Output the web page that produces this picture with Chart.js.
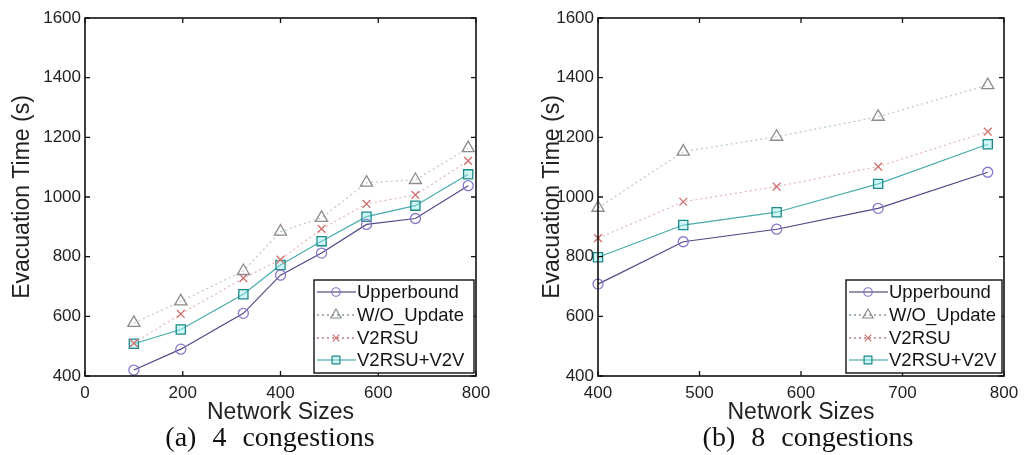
<!DOCTYPE html>
<html>
<head>
<meta charset="utf-8">
<script src="https://cdn.jsdelivr.net/npm/chart.js@4.4.1/dist/chart.umd.min.js"></script>
<style>
  html, body { margin: 0; padding: 0; background: #fff; }
  #wrap { position: relative; width: 1026px; height: 455px; overflow: hidden; background: #fff; }
  canvas { position: absolute; top: 0; }
  .cap { position: absolute; top: 419px; font-family: "Liberation Serif", "Times New Roman", serif; font-size: 28px; color: #111; white-space: nowrap; word-spacing: 9px; transform: translateX(-50%); line-height: 36px; }
</style>
</head>
<body>
<div id="wrap">
  <canvas id="c1" width="513" height="455" style="left:0px"></canvas>
  <canvas id="c2" width="513" height="455" style="left:513px"></canvas>
  <div class="cap" style="left:270px">(a) 4 congestions</div>
  <div class="cap" style="left:808px">(b) 8 congestions</div>
</div>
<script>
// ---- Data ----
const seriesNames = ["Upperbound", "W/O_Update", "V2RSU", "V2RSU+V2V"];

const sizesA = [100, 196, 324, 400, 484, 576, 676, 784];
const upperboundA = [420, 490, 610, 738, 812, 908, 928, 1038];
const woUpdateA   = [578, 650, 752, 884, 930, 1048, 1057, 1164];
const v2rsuA      = [510, 608, 728, 790, 893, 977, 1007, 1121];
const v2rsuV2vA   = [508, 556, 674, 772, 852, 934, 971, 1076];

const sizesB = [400, 484, 576, 676, 784];
const upperboundB = [708, 850, 892, 962, 1083];
const woUpdateB   = [964, 1152, 1202, 1269, 1375];
const v2rsuB      = [862, 984, 1035, 1102, 1219];
const v2rsuV2vB   = [798, 906, 949, 1044, 1177];

const xTicksA = [0, 200, 400, 600, 800];
const xTicksB = [400, 500, 600, 700, 800];
const yTicks = [400, 600, 800, 1000, 1200, 1400, 1600];

// ---- Styles ----
const styles = [
  { borderColor: "#4a4a86", pointBorderColor: "#8478c8", pointBackgroundColor: "rgba(255,255,255,0)", pointStyle: "circle", pointRadius: 5, borderDash: [], legendLine: "#2a2a5a" },
  { borderColor: "#b4cfb4", pointBorderColor: "#8c8c8c", pointBackgroundColor: "rgba(255,255,255,0)", pointStyle: "triangle", pointRadius: 7, borderDash: [2, 3], legendLine: "#4a704a" },
  { borderColor: "#e6b4b4", pointBorderColor: "#d07070", pointBackgroundColor: "rgba(255,255,255,0)", pointStyle: "crossRot", pointRadius: 5.5, borderDash: [2, 3], legendLine: "#904040" },
  { borderColor: "#48acac", pointBorderColor: "#1e8a8a", pointBackgroundColor: "rgba(150,235,235,0.45)", pointStyle: "rect", pointRadius: 6.5, borderDash: [], legendLine: "#2f9a9a" }
];

function mkDatasets(xs, arrays) {
  return arrays.map((arr, i) => ({
    label: seriesNames[i],
    data: xs.map((x, j) => ({ x: x, y: arr[j] })),
    borderColor: styles[i].borderColor,
    borderWidth: 1.2,
    borderDash: styles[i].borderDash,
    pointStyle: styles[i].pointStyle,
    pointRadius: styles[i].pointRadius,
    pointBorderColor: styles[i].pointBorderColor,
    pointBackgroundColor: styles[i].pointBackgroundColor,
    pointBorderWidth: 1.3,
    tension: 0,
    fill: false,
    clip: false
  }));
}

const frameAndLegend = {
  id: "frameAndLegend",
  afterDraw(chart) {
    const ctx = chart.ctx;
    const a = chart.chartArea;
    const xs = chart.scales.x, ys = chart.scales.y;
    ctx.save();
    ctx.strokeStyle = "#111";
    ctx.lineWidth = 1.6;
    ctx.setLineDash([]);
    ctx.strokeRect(a.left, a.top, a.right - a.left, a.bottom - a.top);
    const tl = 5;
    ctx.lineWidth = 1.3;
    ctx.beginPath();
    xs.ticks.forEach(t => {
      const px = xs.getPixelForValue(t.value);
      ctx.moveTo(px, a.bottom); ctx.lineTo(px, a.bottom - tl);
      ctx.moveTo(px, a.top); ctx.lineTo(px, a.top + tl);
    });
    ys.ticks.forEach(t => {
      const py = ys.getPixelForValue(t.value);
      ctx.moveTo(a.left, py); ctx.lineTo(a.left + tl, py);
      ctx.moveTo(a.right, py); ctx.lineTo(a.right - tl, py);
    });
    ctx.stroke();

    // legend box inside plot, bottom-right
    const lw = chart.options.plugins.boxLegend.width;
    const lh = 93;
    const bx = a.right - lw - 2, by = a.bottom - lh - 3;
    ctx.fillStyle = "#fff";
    ctx.fillRect(bx, by, lw, lh);
    ctx.lineWidth = 1.4;
    ctx.strokeStyle = "#111";
    ctx.strokeRect(bx, by, lw, lh);
    const rows = [12, 35, 58, 80];
    chart.data.datasets.forEach((ds, i) => {
      const y = by + rows[i];
      ctx.save();
      ctx.strokeStyle = styles[i].legendLine;
      ctx.lineWidth = 1.2;
      ctx.setLineDash(styles[i].borderDash);
      ctx.beginPath();
      ctx.moveTo(bx + 3, y); ctx.lineTo(bx + 42, y);
      ctx.stroke();
      ctx.setLineDash([]);
      ctx.strokeStyle = styles[i].pointBorderColor;
      ctx.fillStyle = styles[i].pointBackgroundColor;
      ctx.lineWidth = 1.2;
      Chart.helpers.drawPoint(ctx, { pointStyle: styles[i].pointStyle, radius: styles[i].pointRadius * 0.85, rotation: 0, borderWidth: 1.2 }, bx + 22, y);
      ctx.restore();
      ctx.fillStyle = "#151515";
      ctx.font = "18.5px 'Liberation Sans', Arial, sans-serif";
      ctx.textBaseline = "middle";
      ctx.textAlign = "left";
      ctx.fillText(ds.label, bx + 43, y + 1);
    });
    ctx.restore();
  }
};

function makeChart(id, xs, arrays, xmin, xmax, xTickVals, padLeft, padRight, legendWidth) {
  const tickFont = { family: "'Liberation Sans', Arial, sans-serif", size: 17 };
  const titleFont = { family: "'Liberation Sans', Arial, sans-serif", size: 23 };
  return new Chart(document.getElementById(id), {
    type: "line",
    data: { datasets: mkDatasets(xs, arrays) },
    options: {
      responsive: false,
      animation: false,
      devicePixelRatio: 1,
      layout: { padding: { left: padLeft, right: padRight, top: 18, bottom: 0 } },
      plugins: { legend: { display: false }, tooltip: { enabled: false }, boxLegend: { width: legendWidth } },
      scales: {
        x: {
          type: "linear", min: xmin, max: xmax,
          afterBuildTicks(scale) { scale.ticks = xTickVals.map(v => ({ value: v })); },
          grid: { display: false, drawTicks: false },
          border: { display: false },
          ticks: { font: tickFont, color: "#222", padding: 7, maxRotation: 0, autoSkip: false, callback: v => String(v) },
          title: { display: true, text: "Network Sizes", font: titleFont, color: "#222", padding: { top: 0, bottom: 29 } },
          afterFit(scale) { scale.height = 79; }
        },
        y: {
          type: "linear", min: 400, max: 1600,
          afterBuildTicks(scale) { scale.ticks = yTicks.map(v => ({ value: v })); },
          grid: { display: false, drawTicks: false },
          border: { display: false },
          ticks: { font: tickFont, color: "#222", padding: 4, autoSkip: false, callback: v => String(v) },
          title: { display: true, text: "Evacuation Time (s)", font: titleFont, color: "#222", padding: { top: 9, bottom: 0 } },
          afterFit(scale) { scale.width = 85 - padLeft; }
        }
      }
    },
    plugins: [frameAndLegend]
  });
}

makeChart("c1", sizesA, [upperboundA, woUpdateA, v2rsuA, v2rsuV2vA], 0, 800, xTicksA, 0, 37, 160);
makeChart("c2", sizesB, [upperboundB, woUpdateB, v2rsuB, v2rsuV2vB], 400, 800, xTicksB, 17, 22, 156);
</script>
</body>
</html>
